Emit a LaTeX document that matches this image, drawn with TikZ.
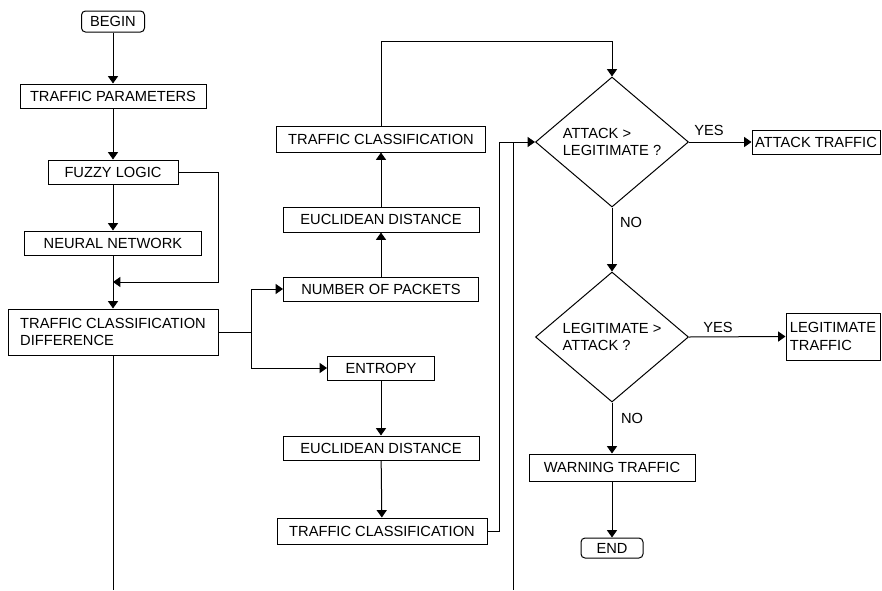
\documentclass[tikz,border=0pt]{standalone}
\usepackage{fontspec}
\setmainfont{Liberation Sans}
\usetikzlibrary{shapes.geometric,arrows.meta}
\newlength\pxu
\setlength\pxu{0.75pt}
\begin{document}
\begin{tikzpicture}[x=0.75pt,y=-0.75pt,
  font=\fontsize{11}{13}\selectfont,
  every node/.style={inner sep=0pt, text=black},
  proc/.style={draw, line width=0.75pt, rectangle},
  term/.style={proc, rounded corners=3pt},
  decision/.style={draw, line width=0.75pt, diamond, minimum width=153*\pxu, minimum height=130*\pxu, align=left},
  link/.style={line width=0.75pt, draw=black},
  flow/.style={link, -{Triangle[length=5.5pt,width=7.5pt]}}
]
\useasboundingbox (0,0) rectangle (882,590);

% left column: feature extraction
\node[term, minimum width=63*\pxu, minimum height=21*\pxu] (begin) at (113,21.5) {BEGIN};
\node[proc, minimum width=186*\pxu, minimum height=24*\pxu] (tp) at (113,96) {TRAFFIC PARAMETERS};
\node[proc, minimum width=130*\pxu, minimum height=24*\pxu] (fl) at (113,172) {FUZZY LOGIC};
\node[proc, minimum width=177*\pxu, minimum height=24*\pxu] (nn) at (113,243) {NEURAL NETWORK};
\node[proc, minimum width=210*\pxu, minimum height=46*\pxu, align=left] (tcd) at (113,332) {TRAFFIC CLASSIFICATION\\DIFFERENCE};

% middle column: two classification branches
\node[proc, minimum width=209*\pxu, minimum height=26*\pxu] (tc1) at (381,139) {TRAFFIC CLASSIFICATION};
\node[proc, minimum width=196*\pxu, minimum height=25*\pxu] (ed1) at (381,219.5) {EUCLIDEAN DISTANCE};
\node[proc, minimum width=195*\pxu, minimum height=24*\pxu] (nop) at (381,289) {NUMBER OF PACKETS};
\node[proc, minimum width=107*\pxu, minimum height=24*\pxu] (ent) at (381,368) {ENTROPY};
\node[proc, minimum width=196*\pxu, minimum height=24*\pxu] (ed2) at (381,448) {EUCLIDEAN DISTANCE};
\node[proc, minimum width=210*\pxu, minimum height=26*\pxu] (tc2) at (382,531) {TRAFFIC CLASSIFICATION};

% right column: decisions
\node[decision] (d1) at (612,142) {ATTACK >\\LEGITIMATE ?};
\node[decision] (d2) at (612,337) {LEGITIMATE >\\ATTACK ?};
\node[proc, minimum width=128*\pxu, minimum height=24*\pxu] (at) at (816,142) {ATTACK TRAFFIC};
\node[proc, minimum width=94*\pxu, minimum height=47*\pxu, align=left] (lt) at (833,336.5) {LEGITIMATE\\TRAFFIC};
\node[proc, minimum width=166*\pxu, minimum height=27*\pxu] (wt) at (612,467.5) {WARNING TRAFFIC};
\node[term, minimum width=62*\pxu, minimum height=20*\pxu] (end) at (612,548) {END};

% branch labels
\node (yes1) at (709,130) {YES};
\node (no1) at (631,222) {NO};
\node (yes2) at (718,327) {YES};
\node (no2) at (632,418) {NO};

% free ends and junctions
\coordinate (merge) at (113,282);
\coordinate (tail1) at (113,590);
\coordinate (tail2) at (513,590);
\coordinate (join) at (513,142);

% connectors
\draw[flow] (begin) -- (tp);
\draw[flow] (tp) -- (fl);
\draw[flow] (fl) -- (nn);
\draw[flow] (nn) -- (tcd);
\draw[flow] (fl.east) -- ++(40,0) |- (merge);
\draw[link] (tcd) -- (tail1);
\draw[flow] (tcd.east) -- ++(33,0) |- (nop.west);
\draw[flow] (tcd.east) -- ++(33,0) |- (ent.west);
\draw[flow] (nop) -- (ed1);
\draw[flow] (ed1) -- (tc1);
\draw[flow] (tc1.north) -- ++(0,-84) -| (d1.north);
\draw[flow] (ent) -- (ed2);
\draw[flow] (ed2) -- (tc2);
\draw[flow] (tc2.east) -- ++(12,0) |- (d1.west);
\draw[link] (join) -- (tail2);
\draw[flow] (d1.east) -- (at.west);
\draw[flow] (d1.south) -- (d2.north);
\draw[flow] (d2.east) -- (lt.west);
\draw[flow] (d2.south) -- (wt.north);
\draw[flow] (wt) -- (end);
\end{tikzpicture}
\end{document}
